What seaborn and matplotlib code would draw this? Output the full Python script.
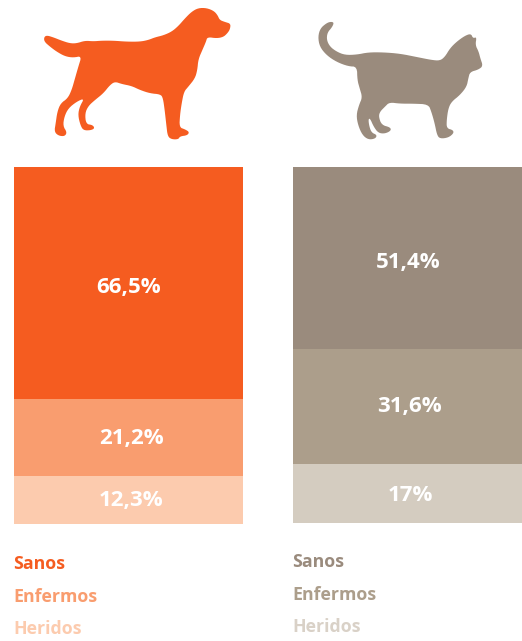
import numpy as np
import matplotlib
matplotlib.use("Agg")
import matplotlib.pyplot as plt
from matplotlib.patches import Polygon
import seaborn as sns

W, H = 522, 641
categories = ["Sanos", "Enfermos", "Heridos"]
dog_heights = [65.0, 21.6, 13.4]
cat_heights = [51.1, 32.3, 16.6]
dog_labels = ["66,5%", "21,2%", "12,3%"]
cat_labels = ["51,4%", "31,6%", "17%"]
dog_colors = ["#F55C20", "#F99D6F", "#FCCBAE"]
cat_colors = ["#9A8B7D", "#AC9E8B", "#D4CCC0"]
cat_legend_colors = ["#9A8B7D", "#AC9E8B", "#D9D1C7"]
dog_label_shift = [(0, 4), (3, 1), (3, 0)]
cat_label_shift = [(1, 5), (2, 0), (3, 2)]

dog_shape = [(42,112),(50,106),(70,112),(95,122),(120,130),(140,130),(165,122),(190,124),(215,122),(250,122),(290,125),(330,125),(355,120),(375,112),(400,106),(425,95),(445,78),(465,55),(485,35),(505,24),(530,24),(552,33),(563,46),(569,60),(585,66),(602,71),(600,88),(592,100),(580,111),(560,115),(532,111),(528,125),(518,148),(505,178),(502,210),(495,235),(475,260),(462,275),(455,310),(450,345),(448,382),(465,388),(478,396),(472,406),(450,409),(445,418),(425,418),(413,409),(409,375),(404,330),(399,295),(392,283),(360,280),(330,270),(305,258),(275,252),(255,245),(240,255),(220,280),(195,300),(175,318),(165,340),(168,372),(188,375),(194,385),(182,391),(160,391),(151,375),(144,345),(149,320),(163,295),(140,305),(115,325),(103,350),(99,378),(111,397),(104,409),(85,407),(73,395),(77,370),(82,335),(92,310),(113,295),(125,270),(135,235),(145,200),(155,168),(130,173),(105,169),(80,155),(60,140),(43,125)]
cat_shape = [(102,38),(96,52),(82,68),(80,90),(90,110),(110,125),(135,135),(170,134),(205,127),(250,127),(300,131),(350,141),(395,150),(420,152),(435,140),(450,115),(470,95),(495,77),(513,71),(519,85),(530,81),(526,105),(536,125),(541,145),(549,168),(535,179),(510,186),(505,205),(500,230),(480,255),(455,275),(445,295),(440,330),(440,355),(459,360),(461,370),(445,383),(420,386),(411,375),(404,340),(394,305),(385,283),(340,281),(300,281),(268,277),(255,290),(240,305),(236,320),(245,345),(271,352),(273,362),(255,371),(235,369),(221,350),(210,325),(205,328),(208,350),(215,368),(231,375),(226,386),(205,389),(187,375),(174,345),(169,315),(177,285),(187,262),(179,235),(172,210),(171,170),(145,169),(110,156),(80,136),(59,110),(54,80),(61,55),(80,39),(93,35)]

sns.set_theme(style="white")
plt.rcParams["font.family"] = ["Open Sans", "DejaVu Sans"]
fig = plt.figure(figsize=(W / 100, H / 100), dpi=100, facecolor="white")


def stacked(x0, x1, y0, y1, heights, colors, labels, shifts, name):
    ax = fig.add_axes([x0 / W, 1 - y1 / H, (x1 - x0) / W, (y1 - y0) / H])
    bottom = 100.0
    for h, c, lab, (sx, sy) in zip(heights, colors, labels, shifts):
        bottom -= h
        sns.barplot(x=[name], y=[h], bottom=bottom, color=c, width=1,
                    saturation=1, ax=ax, linewidth=0)
        ax.annotate(lab, (0, bottom + h / 2), xytext=(sx * 0.72, -sy * 0.72),
                    textcoords="offset points", ha="center", va="center",
                    color="white", fontsize=16, fontweight="bold")
    ax.set_xlim(-0.5, 0.5)
    ax.set_ylim(0, 100)
    ax.axis("off")


stacked(14, 243, 167, 524, dog_heights, dog_colors, dog_labels, dog_label_shift, "Perros")
stacked(293, 522, 167, 523, cat_heights, cat_colors, cat_labels, cat_label_shift, "Gatos")


def smooth(points, rounds=2):
    p = np.array(points, float)
    for _ in range(rounds):
        q = np.roll(p, -1, axis=0)
        p = np.column_stack([0.75 * p + 0.25 * q, 0.25 * p + 0.75 * q]).reshape(-1, 2)
    return p


overlay = fig.add_axes([0, 0, 1, 1], facecolor="none")
overlay.set_xlim(0, W)
overlay.set_ylim(H, 0)
overlay.axis("off")
overlay.add_patch(Polygon(smooth(dog_shape) / 3 + [30, 0], closed=True,
                          facecolor=dog_colors[0], edgecolor="none"))
overlay.add_patch(Polygon(smooth(cat_shape) / 3 + [300, 10], closed=True,
                          facecolor=cat_colors[0], edgecolor="none"))

for i, name in enumerate(categories):
    overlay.text(13.5, 564 + i * 32.5, name, color=dog_colors[i], ha="left", va="center",
                 fontsize=12.8, fontweight="bold")
    overlay.text(292.5, 562 + i * 32.5, name, color=cat_legend_colors[i], ha="left", va="center",
                 fontsize=12.8, fontweight="bold")

fig.savefig("out.png", dpi=100, facecolor="white")
